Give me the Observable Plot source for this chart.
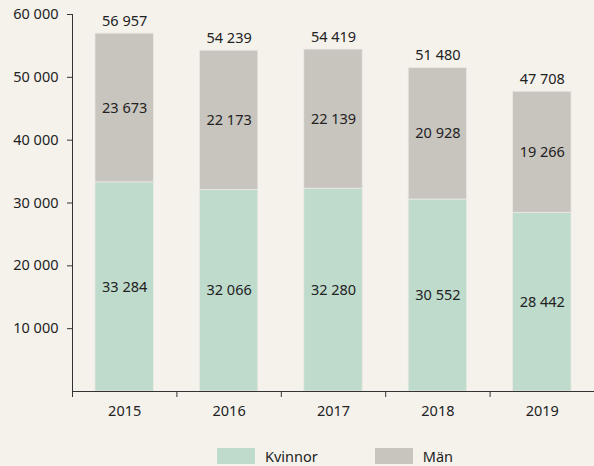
<!DOCTYPE html>
<html>
<head>
<meta charset="utf-8">
<script src="https://cdn.jsdelivr.net/npm/d3@7"></script>
<script src="https://cdn.jsdelivr.net/npm/@observablehq/plot@0.6"></script>
<style>
  html, body { margin: 0; padding: 0; background: #f5f2ec; }
  body { width: 594px; height: 466px; overflow: hidden; font-family: "Noto Sans", sans-serif; }
  #legend { display: flex; position: absolute; top: 447px; left: 217px; font-size: 14.5px; color: #222; line-height: 18px; }
  .item { display: flex; align-items: center; }
  .sw { width: 38px; height: 16px; margin-right: 10px; }
</style>
</head>
<body>
<div id="chart"></div>
<div id="legend"></div>
<script>
const years = [2015, 2016, 2017, 2018, 2019];
const kvinnor = [33284, 32066, 32280, 30552, 28442];
const man = [23673, 22173, 22139, 20928, 19266];
const totals = [56957, 54239, 54419, 51480, 47708];
const series = ["Kvinnor", "Män"];
const colors = ["#bedbcc", "#c8c4be"];
const yTicks = [10000, 20000, 30000, 40000, 50000, 60000];

const data = [];
years.forEach((y, i) => {
  data.push({year: y, sex: "Kvinnor", value: kvinnor[i]});
  data.push({year: y, sex: "Män", value: man[i]});
});
const totalData = years.map((y, i) => ({year: y, value: totals[i]}));
const fmt = d => d3.format(",")(d).replace(/,/g, " ");
const half = 0.28;
const boundaries = years.map(y => y - 0.5).concat([years[years.length - 1] + 0.5]);
const fs = 14.5;

const chart = Plot.plot({
  width: 594,
  height: 430,
  marginLeft: 72,
  marginRight: 0,
  marginTop: 14,
  marginBottom: 39,
  style: {background: "transparent", fontFamily: "Noto Sans, sans-serif", fontSize: fs + "px", color: "#222"},
  x: {type: "linear", domain: [years[0] - 0.5, years[years.length - 1] + 0.5]},
  y: {domain: [0, 60000]},
  color: {domain: series, range: colors},
  marks: [
    Plot.rectY(data, Plot.stackY({
      x1: d => d.year - half, x2: d => d.year + half,
      y: "value", fill: "sex", order: series,
      stroke: "#ebe9e3", strokeWidth: 0.8
    })),
    Plot.text(data, Plot.stackY({
      x: "year", y: "value", z: "sex", order: series,
      text: d => fmt(d.value), fontSize: fs, fill: "#222"
    })),
    Plot.text(totalData, {
      x: "year", y: "value", text: d => fmt(d.value),
      lineAnchor: "bottom", dy: -8, fontSize: fs, fill: "#222"
    }),
    Plot.axisY({ticks: yTicks, tickFormat: fmt, tickSize: 5, tickPadding: 9, fontSize: fs, label: null, stroke: "#333"}),
    Plot.axisX({ticks: boundaries, tickFormat: () => "", tickSize: 6, label: null, stroke: "#333"}),
    Plot.axisX({ticks: years, tickFormat: "d", tickSize: 0, tickPadding: 14, fontSize: fs, label: null}),
    Plot.ruleX([years[0] - 0.5], {stroke: "#333"}),
    Plot.ruleY([0], {stroke: "#333"})
  ]
});
document.getElementById("chart").appendChild(chart);

const legend = document.getElementById("legend");
series.forEach((s, i) => {
  const item = document.createElement("div");
  item.className = "item";
  item.style.marginRight = i === 0 ? "57px" : "0";
  const sw = document.createElement("div");
  sw.className = "sw";
  sw.style.background = colors[i];
  const label = document.createElement("span");
  label.textContent = s;
  item.appendChild(sw);
  item.appendChild(label);
  legend.appendChild(item);
});
</script>
</body>
</html>
